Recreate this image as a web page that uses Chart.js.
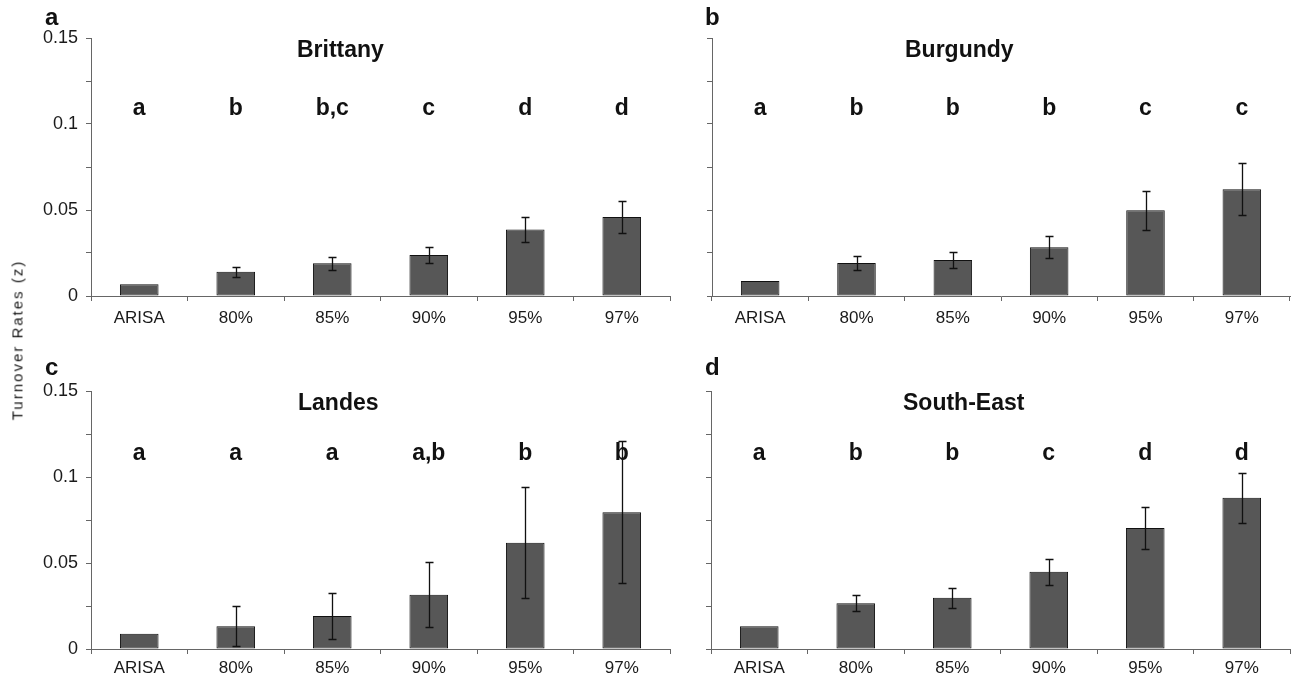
<!DOCTYPE html>
<html>
<head>
<meta charset="utf-8">
<script src="https://cdn.jsdelivr.net/npm/chart.js@4.4.1/dist/chart.umd.min.js"></script>
<style>
  html, body { margin: 0; padding: 0; background: #fff; }
  body { width: 1292px; height: 684px; position: relative; overflow: hidden; font-family: 'Liberation Sans', Arial, sans-serif; }
  .panel { position: absolute; }
  #ylab {
    position: absolute; left: 17px; top: 340px;
    transform: translate(-50%, -50%) rotate(-90deg);
    font-size: 15px; letter-spacing: 2px; color: #1a1a1a; white-space: nowrap;
  }
</style>
</head>
<body>
<div class="panel" style="left:0;top:0"><canvas id="chartA" width="680" height="340"></canvas></div>
<div class="panel" style="left:620px;top:0"><canvas id="chartB" width="672" height="340"></canvas></div>
<div class="panel" style="left:0;top:340px"><canvas id="chartC" width="680" height="340"></canvas></div>
<div class="panel" style="left:620px;top:340px"><canvas id="chartD" width="672" height="340"></canvas></div>
<div id="ylab">Turnover Rates (z)</div>

<script>
// ── data ─────────────────────────────────────────────
const categories = ['ARISA', '80%', '85%', '90%', '95%', '97%'];

const brittanyMeans  = [0.0068, 0.0141, 0.0190, 0.0238, 0.0386, 0.0459];
const brittanyErr    = [0,      0.0029, 0.0038, 0.0048, 0.0074, 0.0093];
const brittanyGroups = ['a', 'b', 'b,c', 'c', 'd', 'd'];

const burgundyMeans  = [0.0087, 0.0192, 0.0209, 0.0283, 0.0498, 0.0620];
const burgundyErr    = [0,      0.0038, 0.0046, 0.0064, 0.0112, 0.0151];
const burgundyGroups = ['a', 'b', 'b', 'b', 'c', 'c'];

const landesMeans    = [0.0089, 0.0132, 0.0192, 0.0316, 0.0618, 0.0795];
const landesErr      = [0,      0.0116, 0.0135, 0.0189, 0.0323, 0.0414];
const landesGroups   = ['a', 'a', 'a', 'a,b', 'b', 'b'];

const southEastMeans  = [0.0132, 0.0266, 0.0298, 0.0449, 0.0703, 0.0880];
const southEastErr    = [0,      0.0046, 0.0059, 0.0075, 0.0121, 0.0145];
const southEastGroups = ['a', 'b', 'b', 'c', 'd', 'd'];

const yTicks = [0, 0.05, 0.1, 0.15];

// ── styling ──────────────────────────────────────────
const FONT = "'Liberation Sans', Arial, sans-serif";
const C = {
  bar:    '#575757',
  edge:   '#111111',
  axis:   '#666666',
  text:   '#1a1a1a',
  err:    '#111111',
};

/* draws error bars, group letters, panel title and panel tag */
const decorPlugin = {
  id: 'decor',
  afterDatasetsDraw(chart, args, o) {
    const ctx = chart.ctx;
    const ys = chart.scales.y;
    const meta = chart.getDatasetMeta(0);
    const area = chart.chartArea;

    ctx.save();
    // error bars
    ctx.strokeStyle = C.err;
    ctx.lineWidth = 1.3;
    meta.data.forEach((bar, i) => {
      const e = o.err[i];
      if (!e) return;
      const m = o.means[i];
      const yt = Math.round(ys.getPixelForValue(m + e)) + 0.5;
      const yb = Math.round(ys.getPixelForValue(m - e)) + 0.5;
      const x = Math.round(bar.x) + 0.5;
      ctx.beginPath();
      ctx.moveTo(x, yt); ctx.lineTo(x, yb);
      ctx.moveTo(x - 4, yt); ctx.lineTo(x + 4, yt);
      ctx.moveTo(x - 4, yb); ctx.lineTo(x + 4, yb);
      ctx.stroke();
    });

    // significance letters
    ctx.fillStyle = '#111';
    ctx.font = 'bold 23px ' + FONT;
    ctx.textAlign = 'center';
    ctx.textBaseline = 'alphabetic';
    meta.data.forEach((bar, i) => {
      ctx.fillText(o.groups[i], bar.x, area.top + o.letterY);
    });

    // region title
    ctx.textAlign = 'left';
    ctx.font = 'bold 23px ' + FONT;
    ctx.fillText(o.title, area.left + o.titleX, area.top + 19);

    // panel tag
    ctx.font = 'bold 24px ' + FONT;
    ctx.fillText(o.tag, o.tagX, o.tagY);
    ctx.restore();
  }
};

function fmtTick(v) {
  const k = v / 0.05;
  if (Math.abs(k - Math.round(k)) > 1e-6) return '';
  return String(+v.toFixed(3));
}

function makePanel(id, cfg) {
  const canvas = document.getElementById(id);
  return new Chart(canvas, {
    type: 'bar',
    data: {
      labels: categories,
      datasets: [{
        data: cfg.means,
        backgroundColor: C.bar,
        borderColor: C.edge,
        borderWidth: 1,
        borderSkipped: false,
        categoryPercentage: 1,
        barPercentage: 0.4,
      }]
    },
    options: {
      responsive: false,
      animation: false,
      devicePixelRatio: 1,
      layout: { padding: { top: cfg.top, right: cfg.right, left: 0, bottom: 0 } },
      plugins: {
        legend: { display: false },
        tooltip: { enabled: false },
        decor: cfg,
      },
      scales: {
        x: {
          afterFit: s => { s.height = cfg.xHeight; },
          border: { display: true, color: C.axis, width: 1 },
          grid: { offset: true, drawOnChartArea: false, drawTicks: true, tickLength: 5, color: C.axis },
          ticks: {
            color: C.text, padding: cfg.xPad, maxRotation: 0, autoSkip: false,
            font: { family: FONT, size: 17 },
          },
        },
        y: {
          min: 0, max: 0.15,
          afterFit: s => { s.width = cfg.yWidth; },
          border: { display: true, color: C.axis, width: 1 },
          grid: { drawOnChartArea: false, drawTicks: true, tickLength: 5, color: C.axis },
          ticks: {
            stepSize: 0.025,
            color: C.text, padding: 8,
            font: { family: FONT, size: 18 },
            callback: v => cfg.showY ? fmtTick(v) : '',
          },
          afterBuildTicks: s => {
            // tick marks every 0.025, labels only at yTicks
            const vals = [];
            for (let i = 0; i <= 6; i++) vals.push(+(i * 0.025).toFixed(3));
            s.ticks = vals.map(v => ({ value: v, label: yTicks.includes(v) ? String(v) : '' }));
          },
        }
      }
    },
    plugins: [decorPlugin]
  });
}

makePanel('chartA', {
  means: brittanyMeans, err: brittanyErr, groups: brittanyGroups,
  title: 'Brittany', titleX: 206, tag: 'a', tagX: 45, tagY: 25,
  letterY: 77, top: 38, right: 10, yWidth: 91, xHeight: 44, xPad: 7, showY: true,
});
makePanel('chartB', {
  means: burgundyMeans, err: burgundyErr, groups: burgundyGroups,
  title: 'Burgundy', titleX: 193, tag: 'b', tagX: 85, tagY: 25,
  letterY: 77, top: 38, right: 2, yWidth: 92, xHeight: 44, xPad: 7, showY: false,
});
makePanel('chartC', {
  means: landesMeans, err: landesErr, groups: landesGroups,
  title: 'Landes', titleX: 207, tag: 'c', tagX: 45, tagY: 35,
  letterY: 69, top: 51, right: 10, yWidth: 91, xHeight: 31, xPad: 4, showY: true,
});
makePanel('chartD', {
  means: southEastMeans, err: southEastErr, groups: southEastGroups,
  title: 'South-East', titleX: 192, tag: 'd', tagX: 85, tagY: 35,
  letterY: 69, top: 51, right: 2, yWidth: 91, xHeight: 31, xPad: 4, showY: false,
});
</script>
</body>
</html>
